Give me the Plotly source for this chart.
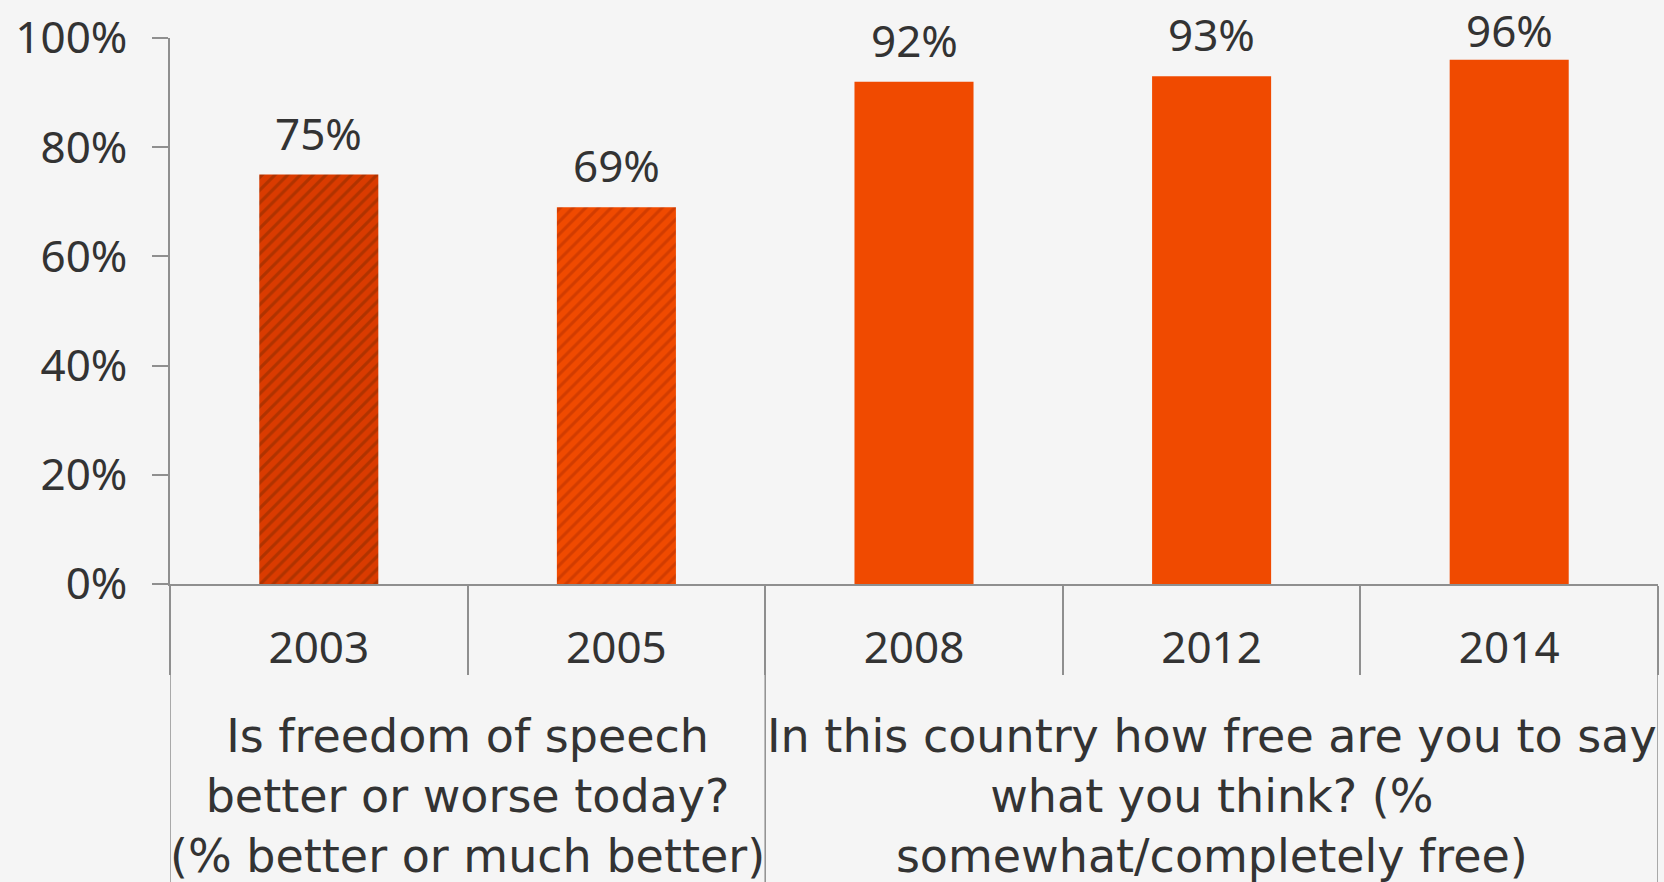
import plotly.graph_objects as go

years = ["2003", "2005", "2008", "2012", "2014"]
values = [75, 69, 92, 93, 96]
labels = ["75%", "69%", "92%", "93%", "96%"]
y_tickvals = [0, 20, 40, 60, 80, 100]
y_ticktext = ["0%", "20%", "40%", "60%", "80%", "100%"]
bar_bg = ["#DA3B00", "#F04A00", "#F04A00", "#F04A00", "#F04A00"]
bar_fg = ["#B03300", "#D23C00", "#F04A00", "#F04A00", "#F04A00"]
bar_shape = ["/", "/", "", "", ""]
group_labels = ["Is freedom of speech<br>better or worse today?<br>(% better or much better)",
                "In this country how free are you to say<br>what you think? (%<br>somewhat/completely free)"]
group_members = [["2003", "2005"], ["2008", "2012", "2014"]]

FONT = "Noto Sans"
GFONT = "DejaVu Sans"
TXT = "#333333"
AX = "#8f8f8f"

W, H = 1664, 882
M_T, M_B = 34, 298
plot_h = H - M_T - M_B
Y_MAX = 100

idx = {y: i for i, y in enumerate(years)}

fig = go.Figure()
for x, v, bg, fg, sh in zip(years, values, bar_bg, bar_fg, bar_shape):
    marker = dict(color=bg, line=dict(width=0))
    if sh:
        marker["pattern"] = dict(shape=sh, fgcolor=fg, bgcolor=bg, fgopacity=1,
                                 size=9, solidity=0.35, fillmode="replace")
    fig.add_trace(go.Bar(x=[x], y=[v], marker=marker, hoverinfo="skip"))

for x, v, t in zip(years, values, labels):
    bar_top_px = M_T + (Y_MAX - v) / Y_MAX * plot_h
    shift = min(10, bar_top_px - 58)
    fig.add_annotation(x=idx[x], y=v, text=t, showarrow=False, yanchor="bottom",
                       yshift=shift, font=dict(family=FONT, size=44, color=TXT))

bounds = set()
for members, gt in zip(group_members, group_labels):
    lo, hi = idx[members[0]], idx[members[-1]]
    fig.add_annotation(x=(lo + hi) / 2, xref="x", y=-0.389, yref="paper", text=gt,
                       showarrow=False, yanchor="middle", xanchor="center",
                       font=dict(family=GFONT, size=46, color=TXT))
    bounds.add(lo - 0.5)
    bounds.add(hi + 0.5)

for b in sorted(bounds):
    fig.add_shape(type="line", xref="x", yref="paper", x0=b, x1=b, y0=0, y1=-0.55,
                  line=dict(color=AX, width=1.5))

fig.update_layout(
    width=W, height=H,
    margin=dict(l=170, r=6, t=M_T, b=M_B),
    paper_bgcolor="#f5f5f5", plot_bgcolor="#f5f5f5",
    barmode="overlay", bargap=0.6, showlegend=False,
    font=dict(family=FONT, color=TXT),
    xaxis=dict(type="category", categoryorder="array", categoryarray=years,
               range=[-0.5, len(years) - 0.5], autorange=False,
               showline=True, linecolor=AX, linewidth=1.5,
               ticks="outside", tickson="boundaries", ticklen=89, tickcolor=AX,
               tickwidth=1.5, ticklabelstandoff=24, tickangle=0,
               tickfont=dict(family=FONT, size=44, color=TXT), showgrid=False),
    yaxis=dict(range=[0, Y_MAX], autorange=False, tickmode="array",
               tickvals=y_tickvals, ticktext=y_ticktext,
               showline=True, linecolor=AX, linewidth=1.5, ticks="outside",
               ticklen=16, tickcolor=AX, tickwidth=1.5, ticklabelstandoff=16,
               showgrid=False, zeroline=False,
               tickfont=dict(family=FONT, size=44, color=TXT)),
)

fig.write_html("out.html")
